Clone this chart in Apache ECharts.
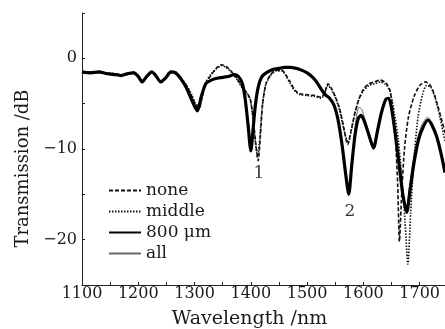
<!DOCTYPE html>
<html>
<head>
<meta charset="utf-8">
<script src="https://cdn.jsdelivr.net/npm/echarts@6/dist/echarts.min.js"></script>
<style>
html,body{margin:0;padding:0;background:#fff;}
#c{width:445px;height:329px;}
</style>
</head>
<body>
<div id="c"></div>
<script>
const seriesNames = ['none', 'middle', '800 μm', 'all'];
const xTicks = [1100, 1200, 1300, 1400, 1500, 1600, 1700];
const yTicks = [0, -10, -20];

const noneData = [
[1100,-1.5],[1115,-1.6],[1130,-1.5],[1145,-1.7],[1160,-1.8],[1170,-1.9],[1180,-1.7],[1192,-1.6],[1200,-2.0],[1207,-2.6],[1215,-2.0],[1224,-1.5],[1231,-1.9],[1240,-2.6],[1248,-2.2],[1258,-1.5],[1266,-1.6],[1275,-2.2],[1285,-3.0],[1295,-4.2],[1302,-5.2],[1308,-5.5],[1314,-4.2],[1320,-2.8],[1330,-1.8],[1340,-1.0],[1348,-0.7],[1356,-0.9],[1365,-1.4],[1375,-2.2],[1385,-3.2],[1393,-3.8],[1399,-4.5],[1404,-6.5],[1409,-9.5],[1413,-11.3],[1417,-8.5],[1421,-5.0],[1427,-2.8],[1435,-1.8],[1445,-1.3],[1455,-1.3],[1462,-1.8],[1470,-2.6],[1478,-3.5],[1487,-3.9],[1500,-4.0],[1513,-4.1],[1525,-4.3],[1531,-3.8],[1537,-2.8],[1543,-3.3],[1550,-4.2],[1558,-5.6],[1565,-7.6],[1572,-9.5],[1578,-8.0],[1585,-6.0],[1592,-4.5],[1600,-3.4],[1610,-2.8],[1620,-2.6],[1630,-2.4],[1640,-2.7],[1647,-3.5],[1652,-5.5],[1657,-9.0],[1661,-14.0],[1664,-20.2],[1668,-15.0],[1673,-10.0],[1680,-6.5],[1690,-4.2],[1700,-3.0],[1710,-2.6],[1718,-2.9],[1725,-3.8],[1732,-5.2],[1740,-7.0],[1745,-8.2]
];
const middleData = [
[1100,-1.6],[1115,-1.5],[1130,-1.6],[1145,-1.6],[1160,-1.7],[1170,-1.8],[1180,-1.8],[1192,-1.5],[1200,-1.9],[1207,-2.5],[1215,-2.1],[1224,-1.6],[1231,-1.8],[1240,-2.7],[1248,-2.3],[1258,-1.6],[1266,-1.5],[1275,-2.1],[1285,-2.9],[1295,-4.0],[1302,-5.0],[1308,-5.3],[1314,-4.0],[1320,-2.6],[1330,-1.7],[1340,-1.1],[1348,-0.8],[1356,-1.0],[1365,-1.5],[1375,-2.3],[1385,-3.3],[1393,-3.9],[1399,-4.6],[1404,-6.8],[1408,-9.3],[1412,-10.8],[1416,-8.8],[1420,-5.5],[1426,-3.0],[1435,-1.9],[1445,-1.4],[1455,-1.4],[1462,-1.9],[1470,-2.8],[1478,-3.6],[1487,-4.0],[1500,-4.1],[1513,-4.2],[1525,-4.4],[1531,-3.9],[1537,-3.0],[1543,-3.4],[1550,-4.3],[1558,-5.8],[1565,-7.8],[1573,-9.3],[1579,-7.8],[1586,-5.8],[1593,-4.4],[1600,-3.6],[1610,-3.0],[1620,-2.8],[1630,-2.6],[1640,-2.9],[1647,-3.6],[1655,-6.0],[1662,-9.0],[1668,-13.0],[1674,-18.0],[1679,-22.7],[1684,-17.0],[1690,-11.0],[1697,-6.5],[1705,-4.0],[1712,-3.0],[1720,-3.2],[1728,-4.5],[1736,-6.5],[1745,-9.2]
];
const um800Data = [
[1100,-1.5],[1115,-1.6],[1130,-1.5],[1145,-1.7],[1160,-1.8],[1170,-1.9],[1180,-1.7],[1192,-1.6],[1200,-2.0],[1207,-2.6],[1215,-2.0],[1224,-1.5],[1231,-1.9],[1240,-2.6],[1248,-2.2],[1258,-1.5],[1266,-1.6],[1275,-2.2],[1285,-3.2],[1295,-4.6],[1305,-5.8],[1312,-4.2],[1320,-2.8],[1330,-2.4],[1340,-2.2],[1350,-2.1],[1360,-2.0],[1370,-1.8],[1378,-2.0],[1385,-2.8],[1390,-4.5],[1395,-7.3],[1400,-10.2],[1404,-7.8],[1408,-5.2],[1413,-3.2],[1420,-2.0],[1430,-1.5],[1440,-1.2],[1450,-1.1],[1460,-1.0],[1470,-1.0],[1480,-1.1],[1490,-1.3],[1500,-1.6],[1510,-2.1],[1518,-2.7],[1525,-3.4],[1532,-4.0],[1540,-4.4],[1548,-5.2],[1555,-6.8],[1562,-9.5],[1568,-12.5],[1574,-15.0],[1579,-12.0],[1585,-8.5],[1591,-6.6],[1596,-6.3],[1602,-7.0],[1610,-8.5],[1618,-9.9],[1625,-8.0],[1632,-6.0],[1640,-4.5],[1645,-4.4],[1650,-5.5],[1657,-8.5],[1664,-12.0],[1670,-15.0],[1677,-17.0],[1683,-14.5],[1690,-11.5],[1698,-9.0],[1706,-7.6],[1715,-6.8],[1722,-7.4],[1730,-8.6],[1738,-10.5],[1745,-12.6]
];
const allData = [
[1100,-1.6],[1115,-1.5],[1130,-1.6],[1145,-1.6],[1160,-1.7],[1170,-1.8],[1180,-1.8],[1192,-1.5],[1200,-1.9],[1207,-2.5],[1215,-2.1],[1224,-1.6],[1231,-1.8],[1240,-2.7],[1248,-2.3],[1258,-1.6],[1266,-1.5],[1275,-2.1],[1285,-3.1],[1295,-4.4],[1304,-5.6],[1311,-4.3],[1319,-2.9],[1330,-2.3],[1340,-2.1],[1350,-2.0],[1360,-1.9],[1370,-1.9],[1378,-2.1],[1385,-2.9],[1390,-4.4],[1396,-7.2],[1401,-9.8],[1405,-7.4],[1409,-5.0],[1414,-3.1],[1420,-2.1],[1430,-1.6],[1440,-1.3],[1450,-1.2],[1460,-1.1],[1470,-1.1],[1480,-1.2],[1490,-1.4],[1500,-1.7],[1510,-2.2],[1518,-2.8],[1525,-3.5],[1532,-4.1],[1540,-4.5],[1548,-5.3],[1555,-6.9],[1562,-9.3],[1568,-12.2],[1575,-14.5],[1580,-11.0],[1586,-7.2],[1592,-5.4],[1597,-5.6],[1603,-6.8],[1611,-8.4],[1618,-9.6],[1625,-7.8],[1632,-5.8],[1640,-4.6],[1645,-4.5],[1650,-5.6],[1657,-8.4],[1664,-11.8],[1670,-14.6],[1676,-16.5],[1682,-14.0],[1689,-11.0],[1697,-8.6],[1705,-7.2],[1714,-6.5],[1722,-7.1],[1730,-8.3],[1738,-10.2],[1745,-12.2]
];

const annotX = [1414.5, 1576];
const annotY = [-12.7, -16.9];
const annotText = ['1', '2'];

const FONT = 'DejaVu Serif';
const TXT = '#1a1a1a';

const chart = echarts.init(document.getElementById('c'), null, {renderer: 'canvas'});

const styles = {
  'none': {color: '#111', width: 1.6, type: [4, 2]},
  'middle': {color: '#111', width: 1.6, type: [1.5, 1.5]},
  '800 μm': {color: '#000', width: 3.2, type: 'solid'},
  'all': {color: '#666', width: 1, type: 'solid'}
};
const dataMap = {'none': noneData, 'middle': middleData, '800 μm': um800Data, 'all': allData};
const drawOrder = ['all', 'middle', 'none', '800 μm'];

const series = drawOrder.map(n => ({
  name: n,
  type: 'line',
  data: dataMap[n],
  symbol: 'none',
  smooth: 0.25,
  lineStyle: {color: styles[n].color, width: styles[n].width, type: styles[n].type},
  itemStyle: {color: styles[n].color},
  z: n === '800 μm' ? 3 : 2
}));

series.push({
  name: 'annot',
  type: 'scatter',
  symbolSize: 0,
  silent: true,
  data: annotX.map((x, i) => ({value: [x, annotY[i]], name: annotText[i]})),
  label: {show: true, formatter: p => p.name, position: 'inside', fontFamily: FONT, fontSize: 17, color: '#000'},
  z: 5
});

chart.setOption({
  animation: false,
  backgroundColor: '#fff',
  grid: {left: 82, right: 0, top: 13, bottom: 44, containLabel: false, outerBoundsMode: 'none'},
  legend: {
    show: true,
    orient: 'vertical',
    left: 103,
    top: 177,
    itemWidth: 32,
    itemHeight: 14,
    itemGap: 4,
    selectedMode: false,
    itemStyle: {opacity: 0},
    textStyle: {fontFamily: FONT, fontSize: 17, color: TXT, lineHeight: 17},
    data: seriesNames
  },
  xAxis: {
    type: 'value',
    min: 1100,
    max: 1745,
    interval: 50,
    name: 'Wavelength /nm',
    nameLocation: 'middle',
    nameGap: 25,
    nameTextStyle: {fontFamily: FONT, fontSize: 19, color: TXT, padding: [0, 28, 0, 0]},
    axisLine: {onZero: false, lineStyle: {color: '#222', width: 1}},
    axisTick: {inside: true, length: 3, lineStyle: {color: '#222'}},
    axisLabel: {
      margin: 1, fontFamily: FONT, fontSize: 16, color: TXT,
      formatter: v => xTicks.indexOf(v) >= 0 ? String(v) : ''
    },
    splitLine: {show: false}
  },
  yAxis: {
    type: 'value',
    min: -25,
    max: 5,
    interval: 5,
    name: 'Transmission /dB',
    nameLocation: 'middle',
    nameGap: 49,
    nameTextStyle: {fontFamily: FONT, fontSize: 18, color: TXT, padding: [0, 39, 0, 0]},
    axisLine: {show: true, onZero: false, lineStyle: {color: '#222', width: 1}},
    axisTick: {show: true, inside: true, length: 3, lineStyle: {color: '#222'}},
    axisLabel: {
      margin: 5, fontFamily: FONT, fontSize: 16, color: TXT,
      formatter: v => yTicks.indexOf(v) >= 0 ? (v < 0 ? '\u2212' + (-v) : String(v)) : ''
    },
    splitLine: {show: false}
  },
  series: series
});
</script>
</body>
</html>
